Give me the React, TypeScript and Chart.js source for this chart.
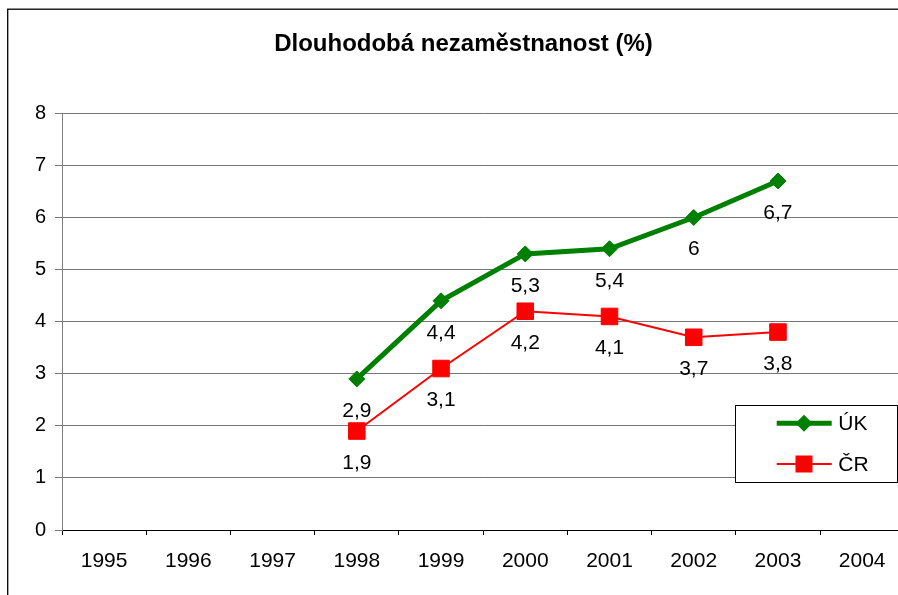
import { useEffect, useRef } from 'react';
import { Chart, registerables } from 'chart.js';

Chart.register(...registerables);

const titleText = 'Dlouhodobá nezaměstnanost (%)';
const categories = ['1995', '1996', '1997', '1998', '1999', '2000', '2001', '2002', '2003', '2004'];
const ukName = 'ÚK';
const crName = 'ČR';
const ukValues: (number | null)[] = [null, null, null, 2.9, 4.4, 5.3, 5.4, 6.0, 6.7, null];
const crValues: (number | null)[] = [null, null, null, 1.9, 3.1, 4.2, 4.1, 3.7, 3.8, null];
const yMin = 0;
const yMax = 8;
const yStep = 1;

const GREEN = '#008000';
const RED = '#FF0000';
const FONT = '"Liberation Sans", Arial, sans-serif';
const CW = 910;
const CH = 600;

const fmt = (v: number) => String(v).replace('.', ',');

const framePlugin = {
  id: 'frame',
  beforeDraw(chart: any) {
    const ctx = chart.ctx;
    ctx.save();
    ctx.fillStyle = '#ffffff';
    ctx.fillRect(0, 0, chart.width, chart.height);
    ctx.restore();
  },
  afterDraw(chart: any) {
    const ctx = chart.ctx;
    ctx.save();
    ctx.strokeStyle = '#000000';
    ctx.lineWidth = 1.3;
    ctx.strokeRect(0.7, 1.2, chart.width + 10, chart.height + 10);
    ctx.fillStyle = '#000000';
    ctx.font = `bold 24px ${FONT}`;
    ctx.textAlign = 'center';
    ctx.textBaseline = 'middle';
    ctx.fillText(titleText, 456.5, 36);
    ctx.restore();
  },
};

const dataLabelPlugin = {
  id: 'dataLabels',
  afterDatasetsDraw(chart: any) {
    const ctx = chart.ctx;
    ctx.save();
    ctx.font = `21px ${FONT}`;
    ctx.fillStyle = '#000000';
    ctx.textAlign = 'center';
    ctx.textBaseline = 'middle';
    chart.data.datasets.forEach((ds: any, i: number) => {
      const meta = chart.getDatasetMeta(i);
      meta.data.forEach((pt: any, j: number) => {
        const v = ds.data[j];
        if (v === null || v === undefined) return;
        ctx.fillText(fmt(v), pt.x, pt.y + 32);
      });
    });
    ctx.restore();
  },
};

const legendPlugin = {
  id: 'boxLegend',
  afterDraw(chart: any) {
    const ctx = chart.ctx;
    const bx = 728.5;
    const by = 397.5;
    const bw = 162;
    const bh = 77;
    ctx.save();
    ctx.fillStyle = '#ffffff';
    ctx.fillRect(bx, by, bw, bh);
    ctx.strokeStyle = '#000000';
    ctx.lineWidth = 1;
    ctx.strokeRect(bx, by, bw, bh);

    const lx0 = 769.7;
    const lx1 = 824.7;
    const mx = 797;
    const tx = 831.3;
    const y1 = 415.3;
    const y2 = 456;

    ctx.strokeStyle = GREEN;
    ctx.lineWidth = 5;
    ctx.beginPath();
    ctx.moveTo(lx0, y1);
    ctx.lineTo(lx1, y1);
    ctx.stroke();
    ctx.fillStyle = GREEN;
    ctx.beginPath();
    const r = 8.5;
    ctx.moveTo(mx - r, y1);
    ctx.lineTo(mx, y1 - r);
    ctx.lineTo(mx + r, y1);
    ctx.lineTo(mx, y1 + r);
    ctx.closePath();
    ctx.fill();

    ctx.strokeStyle = RED;
    ctx.lineWidth = 2;
    ctx.beginPath();
    ctx.moveTo(lx0, y2);
    ctx.lineTo(lx1, y2);
    ctx.stroke();
    ctx.fillStyle = RED;
    const s = 17;
    ctx.fillRect(mx - s / 2, y2 - s / 2, s, s);

    ctx.fillStyle = '#000000';
    ctx.font = `21px ${FONT}`;
    ctx.textAlign = 'left';
    ctx.textBaseline = 'middle';
    ctx.fillText(ukName, tx, y1 + 1);
    ctx.fillText(crName, tx, y2 + 1);
    ctx.restore();
  },
};

export default function App() {
  const ref = useRef<HTMLCanvasElement | null>(null);

  useEffect(() => {
    if (!ref.current) return;
    Chart.defaults.font.family = FONT;
    const chart = new Chart(ref.current, {
      type: 'line',
      data: {
        labels: categories,
        datasets: [
          {
            label: ukName,
            data: ukValues,
            borderColor: GREEN,
            backgroundColor: GREEN,
            borderWidth: 5,
            pointStyle: 'rectRot',
            pointRadius: 8,
            pointBorderWidth: 1,
            pointBackgroundColor: GREEN,
            pointBorderColor: GREEN,
            tension: 0,
          },
          {
            label: crName,
            data: crValues,
            borderColor: RED,
            backgroundColor: RED,
            borderWidth: 2,
            pointStyle: 'rect',
            pointRadius: 11.7,
            pointBorderWidth: 1,
            pointBackgroundColor: RED,
            pointBorderColor: RED,
            tension: 0,
          },
        ],
      },
      options: {
        animation: false,
        responsive: false,
        layout: { padding: { left: 0, right: 4, top: 105.3, bottom: 0 } },
        plugins: {
          legend: { display: false },
          tooltip: { enabled: false },
          title: { display: false },
        },
        scales: {
          x: {
            type: 'category',
            offset: true,
            grid: {
              display: true,
              offset: true,
              drawOnChartArea: false,
              drawTicks: true,
              tickLength: 5,
              color: '#000000',
              tickColor: '#000000',
            },
            border: { display: true, color: '#000000', width: 1 },
            ticks: {
              color: '#000000',
              font: { family: FONT, size: 21 },
              padding: 14,
              maxRotation: 0,
              autoSkip: false,
            },
            afterFit: (scale: any) => {
              scale.height = 78;
            },
          },
          y: {
            type: 'linear',
            min: yMin,
            max: yMax,
            grid: {
              display: true,
              color: '#777777',
              tickColor: '#777777',
              tickLength: 7,
            },
            border: { display: true, color: '#808080', width: 1 },
            ticks: {
              stepSize: yStep,
              color: '#000000',
              font: { family: FONT, size: 20 },
              padding: 9,
            },
            afterFit: (scale: any) => {
              scale.width = 55;
            },
          },
        },
      },
      plugins: [framePlugin, dataLabelPlugin, legendPlugin],
    } as any);
    return () => chart.destroy();
  }, []);

  return (
    <div
      style={{
        position: 'fixed',
        left: 7,
        top: 8,
        width: 891,
        height: 587,
        overflow: 'hidden',
        background: '#ffffff',
      }}
    >
      <canvas ref={ref} width={CW} height={CH} style={{ display: 'block' }} />
    </div>
  );
}
